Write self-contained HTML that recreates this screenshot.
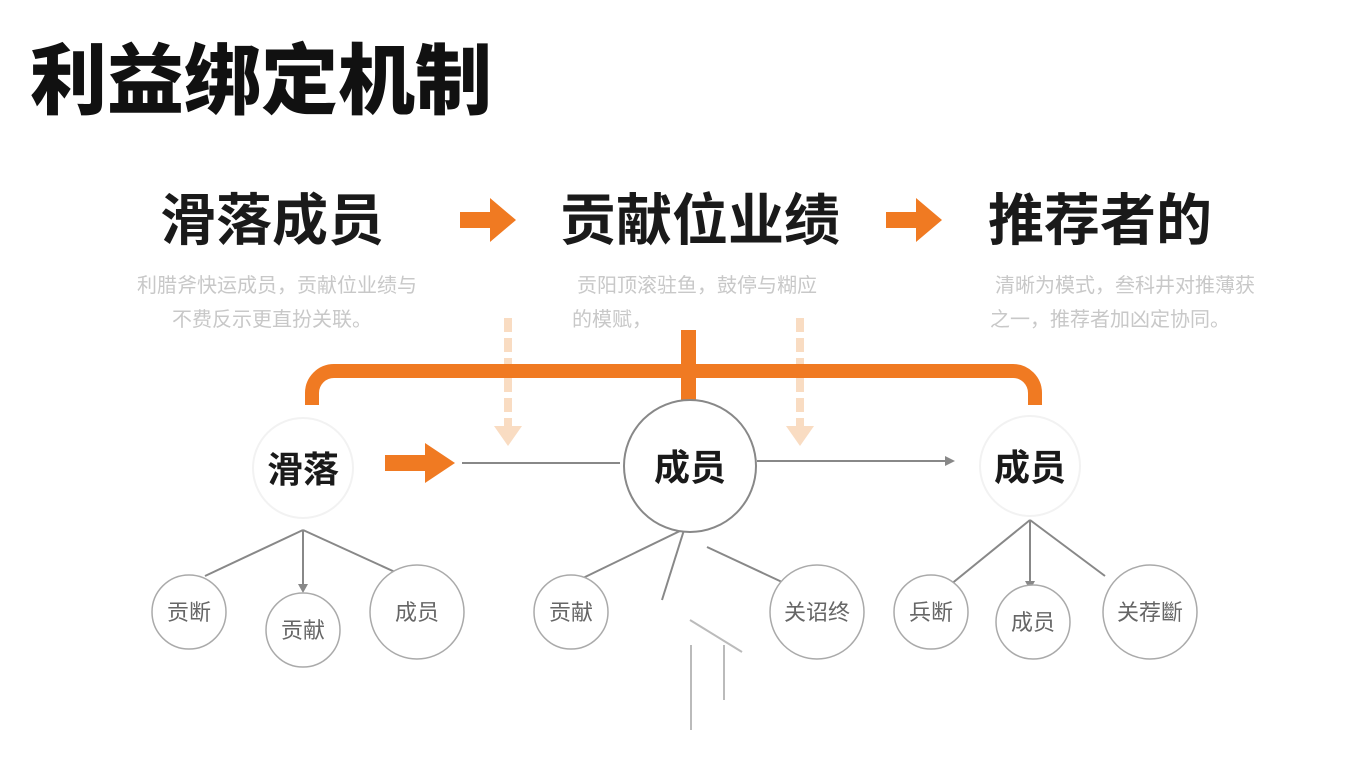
<!DOCTYPE html>
<html><head><meta charset="utf-8"><style>
body{margin:0;width:1348px;height:758px;background:#fff;overflow:hidden;font-family:"Liberation Sans","Noto Sans CJK SC",sans-serif}
</style></head><body>
<svg width="1348" height="758" viewBox="0 0 1348 758" xmlns="http://www.w3.org/2000/svg" style="font-family:'Liberation Sans','Noto Sans CJK SC',sans-serif">
<rect width="1348" height="758" fill="#fff"/>
<text x="30" y="108" font-size="77" font-weight="900" fill="#111">利益绑定机制</text>
<g font-size="56" font-weight="700" fill="#1a1a1a" text-anchor="middle">
<text x="272" y="240">滑落成员</text>
<text x="700" y="240">贡献位业绩</text>
<text x="1100" y="240">推荐者的</text>
</g>
<g fill="#f07a22">
<path d="M460 212h30v-14l26 22-26 22v-14h-30z"/>
<path d="M886 212h30v-14l26 22-26 22v-14h-30z"/>
</g>
<g font-size="20" fill="#c8c8c8" text-anchor="middle">
<text x="277" y="292">利腊斧快运成员，贡献位业绩与</text>
<text x="272" y="326">不费反示更直扮关联。</text>
<text x="697" y="292">贡阳顶滚驻鱼，鼓停与糊应</text>
<text x="612" y="326">的模赋，</text>
<text x="1125" y="292">清晰为模式，叁科井对推薄获</text>
<text x="1110" y="326">之一，推荐者加凶定协同。</text>
</g>
<g stroke="#f9dcc2" stroke-width="8" stroke-dasharray="14 6" fill="none">
<line x1="508" y1="318" x2="508" y2="428"/>
<line x1="800" y1="318" x2="800" y2="428"/>
</g>
<g fill="#f9dcc2"><path d="M494 426h28l-14 20z"/><path d="M786 426h28l-14 20z"/></g>
<path d="M312 405v-12a22 22 0 0 1 22-22h679a22 22 0 0 1 22 22v12" fill="none" stroke="#f07a22" stroke-width="14"/>
<rect x="681" y="330" width="15" height="75" fill="#f07a22"/>
<g stroke="#888" stroke-width="2" fill="none">
<line x1="462" y1="463" x2="620" y2="463"/>
<line x1="757" y1="461" x2="945" y2="461"/>
<line x1="303" y1="530" x2="205" y2="576"/>
<line x1="303" y1="530" x2="303" y2="585"/>
<line x1="303" y1="530" x2="395" y2="572"/>
<line x1="682" y1="530" x2="583" y2="578"/>
<line x1="684" y1="530" x2="662" y2="600"/>
<line x1="707" y1="547" x2="782" y2="582"/>
<line x1="1030" y1="520" x2="950" y2="585"/>
<line x1="1030" y1="520" x2="1030" y2="582"/>
<line x1="1030" y1="520" x2="1105" y2="576"/>
</g>
<g stroke="#bbb" stroke-width="2" fill="none">
<line x1="690" y1="620" x2="742" y2="652"/>
<line x1="691" y1="645" x2="691" y2="730"/>
<line x1="724" y1="645" x2="724" y2="700"/>
</g>
<g fill="#888"><path d="M945 456l10 5-10 5z"/><path d="M298 584h10l-5 9z"/><path d="M1025 581h10l-5 9z"/></g>
<path d="M385 455h40v-12l30 20-30 20v-12h-40z" fill="#f07a22"/>
<g fill="#fff">
<circle cx="303" cy="468" r="50" stroke="#f2f2f2" stroke-width="2"/>
<circle cx="690" cy="466" r="66" stroke="#888" stroke-width="2"/>
<circle cx="1030" cy="466" r="50" stroke="#f2f2f2" stroke-width="2"/>
</g>
<g font-size="36" font-weight="700" fill="#1a1a1a" text-anchor="middle">
<text x="303" y="482">滑落</text>
<text x="690" y="480">成员</text>
<text x="1030" y="480">成员</text>
</g>
<g fill="#fff" stroke="#aaa" stroke-width="1.5">
<circle cx="189" cy="612" r="37"/>
<circle cx="303" cy="630" r="37"/>
<circle cx="417" cy="612" r="47"/>
<circle cx="571" cy="612" r="37"/>
<circle cx="817" cy="612" r="47"/>
<circle cx="931" cy="612" r="37"/>
<circle cx="1033" cy="622" r="37"/>
<circle cx="1150" cy="612" r="47"/>
</g>
<g font-size="22" fill="#666" text-anchor="middle">
<text x="189" y="620">贡断</text>
<text x="303" y="638">贡献</text>
<text x="417" y="620">成员</text>
<text x="571" y="620">贡献</text>
<text x="817" y="620">关诏终</text>
<text x="931" y="620">兵断</text>
<text x="1033" y="630">成员</text>
<text x="1150" y="620">关荐斷</text>
</g>
</svg>
</body></html>
